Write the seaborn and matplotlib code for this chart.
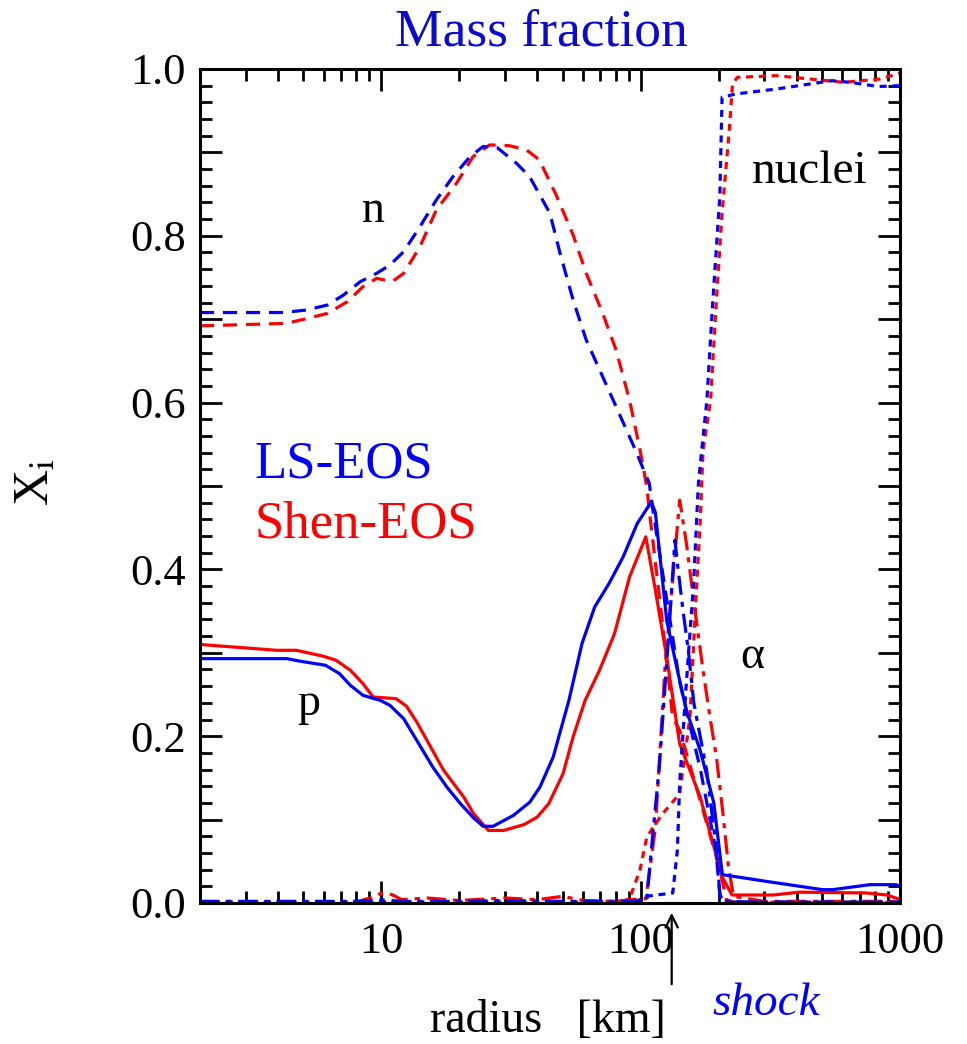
import seaborn as sns
import matplotlib.pyplot as plt
import matplotlib.ticker as mticker
import pandas as pd

# radius [km] / mass fraction
r_p_ls = [2, 4.32, 4.85, 6.1, 6.9, 7.6, 8.5, 9.9, 10.8, 12.2, 13.7, 15.8, 17.9, 20.2, 22.7, 24.7, 27.0,
          32.3, 37.4, 40.9, 46.0, 52.9, 59.4, 66.5, 75.5, 85.6, 97, 110, 114, 126, 138.6, 150, 169.7,
          191.5, 206.6, 304, 502, 550, 766, 965, 1000]
x_p_ls = [0.293, 0.293, 0.290, 0.285, 0.275, 0.261, 0.249, 0.243, 0.237, 0.221, 0.195, 0.163, 0.139,
          0.119, 0.102, 0.092, 0.092, 0.105, 0.121, 0.139, 0.175, 0.243, 0.311, 0.355, 0.383, 0.415,
          0.455, 0.481, 0.468, 0.339, 0.279, 0.231, 0.183, 0.120, 0.034, 0.026, 0.016, 0.016, 0.022,
          0.022, 0.0195]

r_p_shen = [2, 3.95, 4.71, 5.96, 6.7, 7.6, 8.5, 9.3, 11.4, 12.5, 13.7, 15.0, 17.4, 20.8, 22.7, 25.9,
            29.6, 35.5, 39.9, 44.2, 50.2, 55.0, 61.1, 69.4, 79.3, 90.6, 104.7, 114, 126, 141.4, 169.7,
            206.5, 225, 324, 409, 744, 888, 1000]
x_p_shen = [0.310, 0.303, 0.303, 0.296, 0.291, 0.279, 0.263, 0.247, 0.245, 0.236, 0.217, 0.195, 0.159,
            0.127, 0.107, 0.087, 0.087, 0.094, 0.103, 0.119, 0.155, 0.200, 0.243, 0.279, 0.323, 0.391,
            0.439, 0.375, 0.295, 0.191, 0.127, 0.031, 0.0096, 0.0096, 0.013, 0.012, 0.0096, 0.0044]

r_n_ls = [2, 4.19, 5.15, 6.2, 7.15, 8.3, 9.6, 10.8, 12.2, 14.1, 16.3, 18.9, 22.0, 24.7, 27.9, 33.2,
          37.3, 44.7, 48.9, 54.9, 61.7, 71.4, 82.6, 95.5, 108, 111, 124.5, 141, 170, 195, 202, 210, 1000]
x_n_ls = [0.708, 0.708, 0.711, 0.717, 0.729, 0.745, 0.755, 0.765, 0.781, 0.811, 0.843, 0.871, 0.895,
          0.907, 0.906, 0.887, 0.871, 0.827, 0.779, 0.723, 0.675, 0.631, 0.587, 0.543, 0.503, 0.475,
          0.375, 0.267, 0.160, 0.064, 0.010, 0.001, 0.001]

r_n_shen = [2, 4.3, 5.2, 6.2, 7.4, 8.5, 9.6, 11.0, 12.2, 14.1, 16.3, 19.5, 22.6, 26.2, 31.2, 36.3,
            40.7, 47.2, 54.9, 61.7, 71.4, 80.4, 90.6, 99.5, 105.6, 108.7, 121.5, 132.8, 141.4, 169.7,
            202, 214, 230, 1000]
x_n_shen = [0.692, 0.695, 0.701, 0.707, 0.721, 0.739, 0.749, 0.745, 0.755, 0.787, 0.831, 0.863, 0.895,
            0.909, 0.908, 0.903, 0.891, 0.849, 0.801, 0.755, 0.707, 0.663, 0.603, 0.543, 0.499, 0.463,
            0.335, 0.223, 0.207, 0.123, 0.040, 0.004, 0.001, 0.001]

r_a_ls = [2, 8, 10, 12, 20, 30, 50, 90, 100, 105.6, 110, 118, 127, 135.6, 138.6, 145.6, 152.7, 160.3,
          179.7, 196, 203, 300, 1000]
x_a_ls = [0.002, 0.002, 0.004, 0.002, 0.002, 0.003, 0.002, 0.002, 0.003, 0.004, 0.064, 0.163, 0.303,
          0.435, 0.407, 0.351, 0.303, 0.240, 0.159, 0.064, 0.002, 0.001, 0.001]

r_a_shen = [2, 8, 9.5, 10, 11, 12, 15, 20, 30, 40, 50, 60, 80, 92, 104.7, 114, 124, 134, 141.4, 150,
            162, 174, 185, 196, 207, 218, 228, 300, 1000]
x_a_shen = [0.001, 0.001, 0.008, 0.012, 0.010, 0.004, 0.006, 0.003, 0.006, 0.004, 0.008, 0.003, 0.002,
            0.004, 0.005, 0.090, 0.280, 0.400, 0.483, 0.432, 0.351, 0.279, 0.223, 0.175, 0.111, 0.044,
            0.008, 0.002, 0.002]

r_nuc_ls = [2, 50, 95, 99.5, 105, 133, 138.6, 141.4, 150, 160, 167, 172, 180, 190, 202, 206, 232, 334,
            546, 642, 825, 1000]
x_nuc_ls = [0.001, 0.001, 0.001, 0.004, 0.008, 0.012, 0.064, 0.143, 0.263, 0.383, 0.503, 0.543, 0.602,
            0.724, 0.847, 0.966, 0.970, 0.976, 0.986, 0.984, 0.979, 0.980]

r_nuc_shen = [2, 20, 50, 85, 90.6, 99.5, 105.6, 120, 141.4, 155, 162, 170, 174, 186, 196, 206, 220, 226,
              236, 334, 606, 836, 1000]
x_nuc_shen = [0.001, 0.001, 0.001, 0.002, 0.005, 0.040, 0.079, 0.105, 0.131, 0.223, 0.343, 0.463, 0.543,
              0.602, 0.724, 0.827, 0.929, 0.982, 0.990, 0.992, 0.984, 0.988, 0.995]


def make_df():
    curves = [
        ("LS", "p", r_p_ls, x_p_ls), ("Shen", "p", r_p_shen, x_p_shen),
        ("LS", "n", r_n_ls, x_n_ls), ("Shen", "n", r_n_shen, x_n_shen),
        ("LS", "alpha", r_a_ls, x_a_ls), ("Shen", "alpha", r_a_shen, x_a_shen),
        ("LS", "nuclei", r_nuc_ls, x_nuc_ls), ("Shen", "nuclei", r_nuc_shen, x_nuc_shen),
    ]
    dfs = []
    for eos, sp, r, x in curves:
        dfs.append(pd.DataFrame({"r": r, "X": x, "eos": eos, "species": sp}))
    return pd.concat(dfs, ignore_index=True)


W, H = 967, 1044

sns.set_style("ticks")
plt.rcParams['font.family'] = ['Liberation Serif', 'DejaVu Serif']
plt.rcParams['mathtext.fontset'] = 'stix'
for k in ['text.color', 'axes.labelcolor', 'xtick.color', 'ytick.color', 'axes.edgecolor']:
    plt.rcParams[k] = 'black'

fig = plt.figure(figsize=(W / 100, H / 100), dpi=100)
ax = fig.add_axes([200 / W, (H - 903) / H, 700 / W, 834 / H])

df = make_df()
palette = {"LS": "#0000ff", "Shen": "#ff0000"}
dashes = {"p": "", "n": (4.4, 2.8), "nuclei": (2.2, 1.8), "alpha": (6, 2.2, 1.6, 2.2)}
# red first, blue drawn on top
for eos in ["Shen", "LS"]:
    sns.lineplot(data=df[df.eos == eos], x="r", y="X", hue="eos", style="species",
                 palette=palette, dashes=dashes, estimator=None, lw=2.3, legend=False, ax=ax)

ax.set_xscale("log")
ax.set_xlim(2, 1000)
ax.set_ylim(0, 1)
ax.set_xlabel("")
ax.set_ylabel("")

ax.xaxis.set_major_locator(mticker.LogLocator(base=10))
ax.xaxis.set_minor_locator(mticker.LogLocator(base=10, subs=range(2, 10)))
ax.xaxis.set_major_formatter(mticker.FuncFormatter(lambda v, p: "{:g}".format(v)))
ax.xaxis.set_minor_formatter(mticker.NullFormatter())
ax.yaxis.set_major_locator(mticker.MultipleLocator(0.1))
ax.yaxis.set_minor_locator(mticker.MultipleLocator(0.02))
ax.yaxis.set_major_formatter(mticker.FuncFormatter(
    lambda v, p: "{:.1f}".format(v) if round(v * 10) % 2 == 0 else ""))

ax.tick_params(which="both", direction="in", top=True, right=True, width=2, labelsize=32,
               colors="black")
ax.tick_params(which="major", length=16, pad=10)
ax.tick_params(which="minor", length=8.5)
ax.tick_params(axis="x", which="major", pad=14)
for s in ax.spines.values():
    s.set_linewidth(2.2)
    s.set_color("black")


def ftext(x, y, s, **kw):
    fig.text(x / W, 1 - y / H, s, **kw)


ftext(541, 45, "Mass fraction", ha="center", va="baseline", fontsize=38.5, color="#0a0ad2")
ftext(362, 222, "n", ha="left", va="baseline", fontsize=33)
ftext(297, 715, "p", ha="left", va="baseline", fontsize=33)
ftext(752, 183, "nuclei", ha="left", va="baseline", fontsize=34)
ftext(740, 668, "\u03b1", ha="left", va="baseline", fontsize=33)
ftext(255, 478, "LS-EOS", ha="left", va="baseline", fontsize=38, color="#0000ff")
ftext(255, 538, "Shen-EOS", ha="left", va="baseline", fontsize=38, color="#ff0000")
ftext(430, 1032, "radius   [km]", ha="left", va="baseline", fontsize=33)
ftext(712, 1015, "shock", ha="left", va="baseline", fontsize=34, style="italic", color="#0000ff")
ftext(36, 482, r"X$_\mathrm{i}$", ha="center", va="center", rotation=90, fontsize=36)

ax.annotate("", xy=(671.7 / W, 1 - 910 / H), xytext=(671.7 / W, 1 - 987 / H),
            xycoords="figure fraction", textcoords="figure fraction",
            arrowprops=dict(arrowstyle="->", lw=1.6, color="black", mutation_scale=22))

plt.savefig("out.png", dpi=100)
